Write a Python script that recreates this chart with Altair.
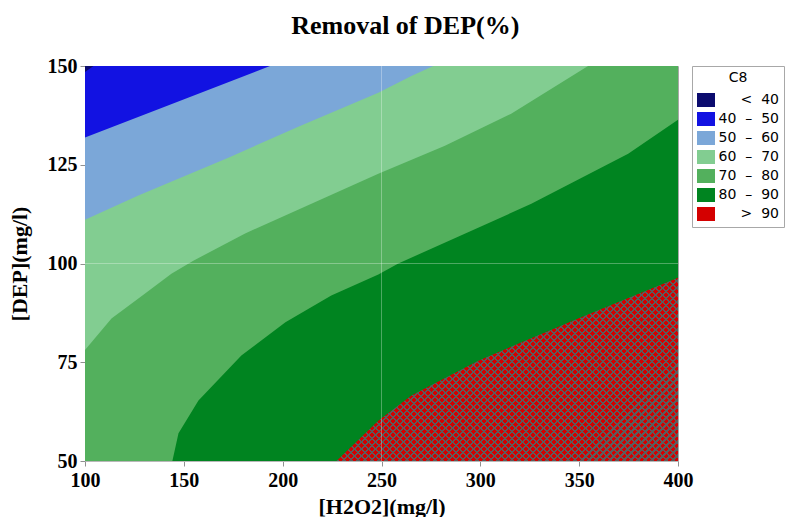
import math
import altair as alt
import pandas as pd

# ---------------- data ----------------
X_MIN, X_MAX = 100, 400          # [H2O2](mg/l)
Y_MIN, Y_MAX = 50, 150           # [DEP](mg/l)
x_ticks = [100, 150, 200, 250, 300, 350, 400]
y_ticks = [50, 75, 100, 125, 150]

levels = ["<\u00a0\u00a040", "40\u00a0\u00a0\u2013\u00a0\u00a050", "50\u00a0\u00a0\u2013\u00a0\u00a060",
          "60\u00a0\u00a0\u2013\u00a0\u00a070", "70\u00a0\u00a0\u2013\u00a0\u00a080",
          "80\u00a0\u00a0\u2013\u00a0\u00a090", ">\u00a0\u00a090"]
level_colors = ["#0b0b6e", "#1212e2", "#7ba7d8", "#82cd91", "#53b05d", "#008420", "#d40000"]

# contour boundaries (y at given x); regions above each boundary get the lower level
b40_x = [100, 104.3, 116]
b40_y = [148.5, 150, 153.5]
b50_x = [100, 140, 193.6, 220]
b50_y = [131.9, 139.6, 150, 155.1]
b60_x = [100, 127.0, 172.5, 207.9, 248.4, 265.1, 276.2, 300]
b60_y = [111.1, 117.2, 126.8, 134.6, 143.2, 147.5, 150, 155]
b70_x = [100, 113.4, 130.4, 143.7, 154.8, 181.0, 248.4, 282.1, 315.6, 354.5, 400]
b70_y = [78.1, 86.1, 92.4, 97.4, 100.7, 107.6, 122.7, 129.8, 137.9, 150, 162]
b80_x = [100, 138, 144.2, 147.3, 157.4, 179.1, 201.4, 224.6, 248.4, 258.5, 325.8, 374.8, 400]
b80_y = [0, 35, 50, 57.0, 65.3, 76.7, 85.1, 91.9, 97.2, 100.0, 115.1, 127.8, 136.4]
b90_x = [100, 215, 227.2, 248.4, 265.1, 299.0, 349.5, 400]
b90_y = [-20, 43, 50, 60.2, 66.6, 75.4, 86.1, 96.4]

grid_x = [250]
grid_y = [100]

# ---------------- chart ----------------
W, H = 593, 395
SERIF = "Liberation Serif"

x_enc = alt.X("x:Q", scale=alt.Scale(domain=[X_MIN, X_MAX], nice=False, zero=False),
              axis=alt.Axis(title="[H2O2](mg/l)", values=x_ticks, grid=False, labelFlush=False))
y_enc = alt.Y("hi:Q", scale=alt.Scale(domain=[Y_MIN, Y_MAX], nice=False, zero=False),
              axis=alt.Axis(title="[DEP](mg/l)", values=y_ticks, grid=False, labelFlush=False))

color_scale = alt.Scale(domain=levels, range=level_colors)


def stripe_gradient(line_color, bg_color, descending):
    r = H / W
    k = (1 + r) / (1 + r * r)
    n = round((W + H) / math.sqrt(2) / 4.95)
    frac = 0.3
    stops = []
    for i in range(n):
        a = i / n
        b = (i + frac) / n
        c = (i + 1) / n
        stops += [alt.GradientStop(offset=a, color=line_color),
                  alt.GradientStop(offset=b, color=line_color),
                  alt.GradientStop(offset=b, color=bg_color),
                  alt.GradientStop(offset=c, color=bg_color)]
    if descending:
        return alt.LinearGradient(gradient="linear", stops=stops,
                                  x1=0, y1=1, x2=k, y2=1 - k * r)
    return alt.LinearGradient(gradient="linear", stops=stops,
                              x1=0, y1=0, x2=k, y2=k * r)


bg = pd.DataFrame({"x": [X_MIN, X_MAX], "lo": [Y_MIN, Y_MIN], "hi": [Y_MAX, Y_MAX],
                   "band": [levels[-1]] * 2})

hatch1 = alt.Chart(bg).mark_area(
    color=stripe_gradient("#5c5c5c", "#d40000", True), clip=True
).encode(x=x_enc, y=y_enc, y2="lo:Q")
hatch2 = alt.Chart(bg).mark_area(
    color=stripe_gradient("#5c5c5c", "rgba(212,0,0,0)", False), clip=True
).encode(x=x_enc, y=y_enc, y2="lo:Q")

legend = alt.Legend(
    title="C8", orient="right", offset=14, padding=5,
    strokeColor="#a8a8a8", fillColor="white",
    titleAnchor="middle", titleFont="DejaVu Sans", titleFontSize=14,
    titleFontWeight="normal", titleColor="black", titlePadding=6,
    labelFont="DejaVu Sans", labelFontSize=14, labelColor="black",
    labelAlign="right", labelLimit=300, labelOffset=64,
    symbolType="M-1,-0.78H1V0.78H-1Z", symbolSize=324,
    symbolStrokeWidth=0, symbolOpacity=1, rowPadding=2,
)

bands = [
    (levels[5], b90_x, b90_y),
    (levels[4], b80_x, b80_y),
    (levels[3], b70_x, b70_y),
    (levels[2], b60_x, b60_y),
    (levels[1], b50_x, b50_y),
    (levels[0], b40_x, b40_y),
]

layers = [hatch1, hatch2]
for i, (lab, bx, by) in enumerate(bands):
    df = pd.DataFrame({"x": bx, "lo": by, "hi": [Y_MAX] * len(bx), "band": [lab] * len(bx)})
    layers.append(
        alt.Chart(df).mark_area(clip=True, strokeWidth=0).encode(
            x=x_enc, y=y_enc, y2="lo:Q",
            color=alt.Color("band:N", scale=color_scale,
                            legend=legend if i == 0 else None),
        )
    )

gx = alt.Chart(pd.DataFrame({"x": grid_x})).mark_rule(color="white", opacity=0.3, strokeWidth=1).encode(x="x:Q")
gy = alt.Chart(pd.DataFrame({"hi": grid_y})).mark_rule(color="white", opacity=0.3, strokeWidth=1).encode(y="hi:Q")
layers += [gx, gy]

chart = alt.layer(*layers).properties(
    width=W, height=H,
    title=alt.TitleParams("Removal of DEP(%)", font=SERIF, fontSize=26, fontWeight="bold",
                          color="black", anchor="middle", frame="bounds", offset=17, dx=9),
    padding={"left": 0, "right": 0, "top": 5, "bottom": 0},
).configure_view(
    stroke="#a8a8a8", strokeWidth=1
).configure_axis(
    labelFont=SERIF, labelFontSize=20, labelFontWeight="bold", labelColor="black",
    titleFont=SERIF, titleFontSize=22, titleFontWeight="bold", titleColor="black",
    domainColor="#b8b8b8", tickColor="#909090", tickSize=5,
).configure_axisX(
    labelPadding=4, titlePadding=6,
).configure_axisY(
    labelPadding=3, titlePadding=16,
)

chart.save("out.html", embed_options={"renderer": "svg", "actions": False})
